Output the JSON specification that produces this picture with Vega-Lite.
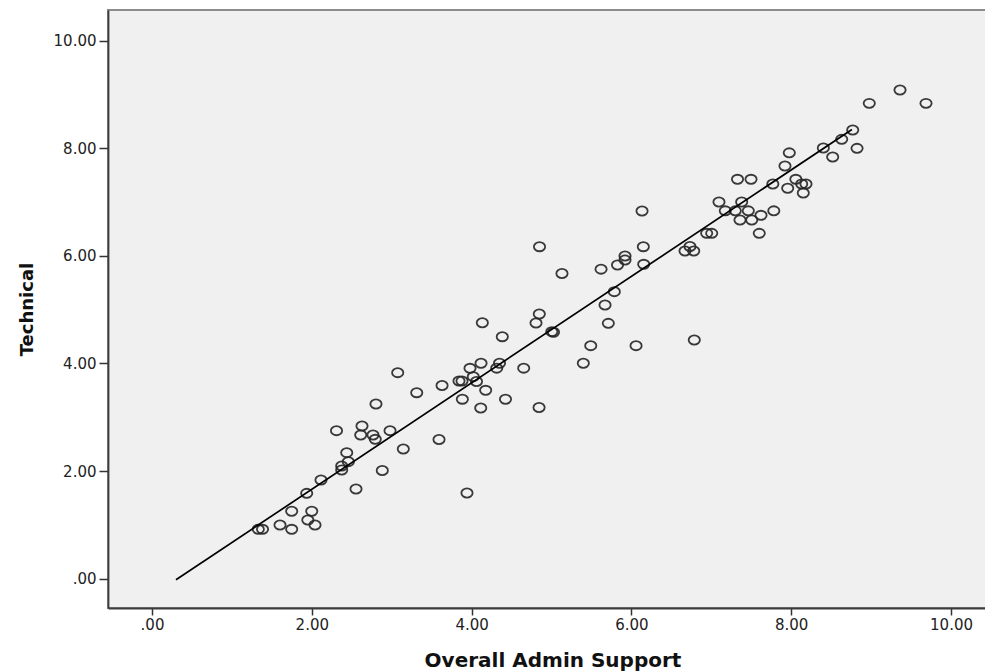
{
  "$schema": "https://vega.github.io/schema/vega-lite/v6.json",
  "width": 882,
  "height": 598,
  "autosize": {"type": "none"},
  "padding": {"left": 108, "top": 10, "right": 0, "bottom": 63},
  "background": "white",
  "config": {"view": {"fill": "#f0f0f0", "stroke": "#8c8c8c", "strokeWidth": 2}},
  "datasets": {
    "pts": [
      {"admin": 1.330, "technical": 0.918},
      {"admin": 1.383, "technical": 0.918},
      {"admin": 1.602, "technical": 0.998},
      {"admin": 1.748, "technical": 0.918},
      {"admin": 1.748, "technical": 1.253},
      {"admin": 1.936, "technical": 1.587},
      {"admin": 1.950, "technical": 1.091},
      {"admin": 1.999, "technical": 1.253},
      {"admin": 2.040, "technical": 0.998},
      {"admin": 2.115, "technical": 1.835},
      {"admin": 2.374, "technical": 2.020},
      {"admin": 2.374, "technical": 2.095},
      {"admin": 2.457, "technical": 2.175},
      {"admin": 2.437, "technical": 2.342},
      {"admin": 2.309, "technical": 2.751},
      {"admin": 2.628, "technical": 2.838},
      {"admin": 2.612, "technical": 2.671},
      {"admin": 2.766, "technical": 2.671},
      {"admin": 2.794, "technical": 2.591},
      {"admin": 2.979, "technical": 2.751},
      {"admin": 2.553, "technical": 1.667},
      {"admin": 2.882, "technical": 2.011},
      {"admin": 3.145, "technical": 2.411},
      {"admin": 2.803, "technical": 3.247},
      {"admin": 3.313, "technical": 3.457},
      {"admin": 3.075, "technical": 3.829},
      {"admin": 3.592, "technical": 2.587},
      {"admin": 3.630, "technical": 3.591},
      {"admin": 3.942, "technical": 1.593},
      {"admin": 3.842, "technical": 3.675},
      {"admin": 3.880, "technical": 3.675},
      {"admin": 3.980, "technical": 3.911},
      {"admin": 4.021, "technical": 3.755},
      {"admin": 4.061, "technical": 3.665},
      {"admin": 4.118, "technical": 4.004},
      {"admin": 4.176, "technical": 3.502},
      {"admin": 3.884, "technical": 3.336},
      {"admin": 4.114, "technical": 3.173},
      {"admin": 4.134, "technical": 4.758},
      {"admin": 4.384, "technical": 4.498},
      {"admin": 4.349, "technical": 4.004},
      {"admin": 4.314, "technical": 3.913},
      {"admin": 4.424, "technical": 3.335},
      {"admin": 4.652, "technical": 3.913},
      {"admin": 4.844, "technical": 3.182},
      {"admin": 4.847, "technical": 4.920},
      {"admin": 4.806, "technical": 4.753},
      {"admin": 5.003, "technical": 4.591},
      {"admin": 5.025, "technical": 4.580},
      {"admin": 4.850, "technical": 6.171},
      {"admin": 5.131, "technical": 5.673},
      {"admin": 5.398, "technical": 4.004},
      {"admin": 5.491, "technical": 4.331},
      {"admin": 5.670, "technical": 5.087},
      {"admin": 5.711, "technical": 4.747},
      {"admin": 5.786, "technical": 5.335},
      {"admin": 5.620, "technical": 5.753},
      {"admin": 5.826, "technical": 5.831},
      {"admin": 5.920, "technical": 5.998},
      {"admin": 5.920, "technical": 5.924},
      {"admin": 6.149, "technical": 6.171},
      {"admin": 6.154, "technical": 5.844},
      {"admin": 6.133, "technical": 6.835},
      {"admin": 6.058, "technical": 4.331},
      {"admin": 6.787, "technical": 4.437},
      {"admin": 6.671, "technical": 6.091},
      {"admin": 6.733, "technical": 6.175},
      {"admin": 6.780, "technical": 6.091},
      {"admin": 6.942, "technical": 6.420},
      {"admin": 7.005, "technical": 6.420},
      {"admin": 7.096, "technical": 7.002},
      {"admin": 7.175, "technical": 6.838},
      {"admin": 7.300, "technical": 6.838},
      {"admin": 7.380, "technical": 7.002},
      {"admin": 7.463, "technical": 6.838},
      {"admin": 7.359, "technical": 6.667},
      {"admin": 7.506, "technical": 6.667},
      {"admin": 7.622, "technical": 6.755},
      {"admin": 7.600, "technical": 6.420},
      {"admin": 7.782, "technical": 6.838},
      {"admin": 7.770, "technical": 7.336},
      {"admin": 7.328, "technical": 7.424},
      {"admin": 7.497, "technical": 7.424},
      {"admin": 7.956, "technical": 7.257},
      {"admin": 8.058, "technical": 7.424},
      {"admin": 8.131, "technical": 7.336},
      {"admin": 8.185, "technical": 7.336},
      {"admin": 8.151, "technical": 7.169},
      {"admin": 7.922, "technical": 7.671},
      {"admin": 7.976, "technical": 7.916},
      {"admin": 8.402, "technical": 8.006},
      {"admin": 8.519, "technical": 7.838},
      {"admin": 8.632, "technical": 8.167},
      {"admin": 8.770, "technical": 8.340},
      {"admin": 8.824, "technical": 8.000},
      {"admin": 8.977, "technical": 8.836},
      {"admin": 9.362, "technical": 9.084},
      {"admin": 9.687, "technical": 8.836}
    ],
    "fit": [
      {"admin": 0.30, "technical": -0.02},
      {"admin": 8.76, "technical": 8.35}
    ]
  },
  "encoding": {
    "x": {
      "field": "admin",
      "type": "quantitative",
      "scale": {"domain": [-0.551, 10.488], "nice": false, "zero": false},
      "axis": {
        "values": [0, 2, 4, 6, 8, 10],
        "labelExpr": "datum.value == 0 ? '.00' : format(datum.value, '.2f')",
        "grid": false,
        "tickSize": 7,
        "tickWidth": 1.5,
        "tickColor": "#333333",
        "domainColor": "#3c3c3c",
        "domainWidth": 1.8,
        "labelFont": "DejaVu Sans",
        "labelFontSize": 15,
        "labelColor": "#222222",
        "labelPadding": 2,
        "labelFlush": false,
        "labelOverlap": false,
        "title": "Overall Admin Support",
        "titleFont": "DejaVu Sans",
        "titleFontSize": 20,
        "titleFontWeight": "bold",
        "titleColor": "#111111",
        "titleX": 444.5,
        "titleY": 58.7,
        "titleAlign": "center",
        "titleBaseline": "alphabetic"
      }
    },
    "y": {
      "field": "technical",
      "type": "quantitative",
      "scale": {"domain": [-0.545, 10.571], "nice": false, "zero": false},
      "axis": {
        "values": [0, 2, 4, 6, 8, 10],
        "labelExpr": "datum.value == 0 ? '.00' : format(datum.value, '.2f')",
        "grid": false,
        "tickSize": 9,
        "tickWidth": 1.5,
        "tickColor": "#333333",
        "domainColor": "#3c3c3c",
        "domainWidth": 1.8,
        "labelFont": "DejaVu Sans",
        "labelFontSize": 15,
        "labelColor": "#222222",
        "labelPadding": 3,
        "labelFlush": false,
        "labelOverlap": false,
        "title": "Technical",
        "titleFont": "DejaVu Sans",
        "titleFontSize": 18,
        "titleFontWeight": "bold",
        "titleColor": "#111111",
        "titleAngle": 270,
        "titleX": -76,
        "titleY": 299,
        "titleAlign": "center",
        "titleBaseline": "alphabetic"
      }
    }
  },
  "layer": [
    {
      "data": {"name": "pts"},
      "mark": {
        "type": "point",
        "shape": "M -1.05 0 A 1.05 0.85 0 1 0 1.05 0 A 1.05 0.85 0 1 0 -1.05 0 Z",
        "size": 115,
        "filled": false,
        "stroke": "#262626",
        "strokeWidth": 1.8,
        "opacity": 0.9
      }
    },
    {
      "data": {"name": "fit"},
      "mark": {"type": "line", "color": "#000000", "strokeWidth": 1.7}
    }
  ]
}
